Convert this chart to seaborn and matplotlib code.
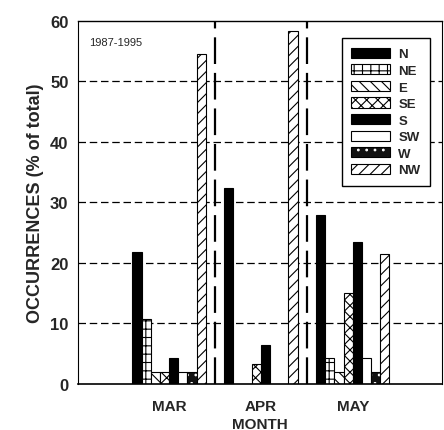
import matplotlib
matplotlib.use("Agg")
import matplotlib.pyplot as plt
import matplotlib.colors as mcolors
import seaborn as sns
import pandas as pd

months = ["MAR", "APR", "MAY"]
directions = ["N", "NE", "E", "SE", "S", "SW", "W", "NW"]
mar = [21.8, 10.7, 2.0, 2.0, 4.3, 2.0, 2.0, 54.5]
apr = [32.4, 0.0, 0.0, 3.3, 6.5, 0.0, 0.0, 58.3]
may = [27.9, 4.3, 2.0, 15.0, 23.5, 4.3, 2.0, 21.4]

rows = []
for m, vals in zip(months, [mar, apr, may]):
    for d, v in zip(directions, vals):
        rows.append({"month": m, "dir": d, "val": v})
df = pd.DataFrame(rows)

sns.set_style("white")
plt.rcParams["font.family"] = ["Liberation Sans", "DejaVu Sans"]
plt.rcParams["hatch.linewidth"] = 0.8

fig = plt.figure(figsize=(4.44, 4.31), dpi=100)
ax = fig.add_axes([0.176, 0.107, 0.819, 0.842])

fills = {"N": "black", "NE": "white", "E": "white", "SE": "white",
         "S": "black", "SW": "white", "W": "#111111", "NW": "white"}
hatches = {"N": "", "NE": "++", "E": "\\\\\\", "SE": "xxx",
           "S": "", "SW": "", "W": "..", "NW": "///"}

sns.barplot(data=df, x="month", y="val", hue="dir", hue_order=directions,
            order=months, palette=fills, edgecolor="black", linewidth=0.8,
            width=0.8, ax=ax, legend=False)

for cont, d in zip(ax.containers, directions):
    for p in cont:
        p.set_hatch(hatches[d])
        if d == "W":
            if hasattr(p, "set_hatchcolor"):
                p.set_hatchcolor("white")
            else:
                p._hatch_color = mcolors.to_rgba("white")

ax.set_xlim(-0.99, 2.97)
ax.set_ylim(0, 60)
ax.set_yticks([0, 10, 20, 30, 40, 50, 60])
ax.set_yticklabels(["0", "10", "20", "30", "40", "50", "60"], fontweight="bold", fontsize=12)
ax.set_xticks([0, 1, 2])
ax.set_xticklabels(months, fontweight="bold", fontsize=11)
ax.tick_params(axis="both", direction="out", length=5, width=1, color="black", pad=2)
ax.tick_params(axis="x", pad=6)
ax.set_xlabel("MONTH", fontweight="bold", fontsize=11, labelpad=3)
ax.set_ylabel("OCCURRENCES (% of total)", fontweight="bold", fontsize=13, labelpad=4)

for y in [10, 20, 30, 40, 50]:
    ax.axhline(y, color="black", lw=0.9, ls=(0, (6, 3)), zorder=0)
for x in [0.5, 1.5]:
    ax.axvline(x, color="black", lw=1.6, ls=(0, (12, 4)), zorder=0)

for s in ["left", "right", "top", "bottom"]:
    ax.spines[s].set_visible(True)
    ax.spines[s].set_color("black")
ax.spines["left"].set_linewidth(0.8)
ax.spines["right"].set_linewidth(0.8)
ax.spines["top"].set_linewidth(1.0)
ax.spines["bottom"].set_linewidth(1.2)

ax.text(0.03, 0.955, "1987-1995", transform=ax.transAxes, fontsize=8,
        ha="left", va="top")

handles = [c[0] for c in ax.containers]
leg = ax.legend(handles, directions, loc="upper right",
                bbox_to_anchor=(0.985, 0.97), frameon=True,
                fancybox=False, edgecolor="black", framealpha=1,
                prop={"weight": "bold", "size": 9.5}, handlelength=3.0,
                handleheight=0.8, labelspacing=0.3, borderpad=0.7,
                handletextpad=0.6)
leg.get_frame().set_linewidth(1.0)
for h in leg.legend_handles:
    if h.get_hatch() == "..":
        if hasattr(h, "set_hatchcolor"):
            h.set_hatchcolor("white")
        else:
            h._hatch_color = mcolors.to_rgba("white")

fig.savefig("out.png", dpi=100)
